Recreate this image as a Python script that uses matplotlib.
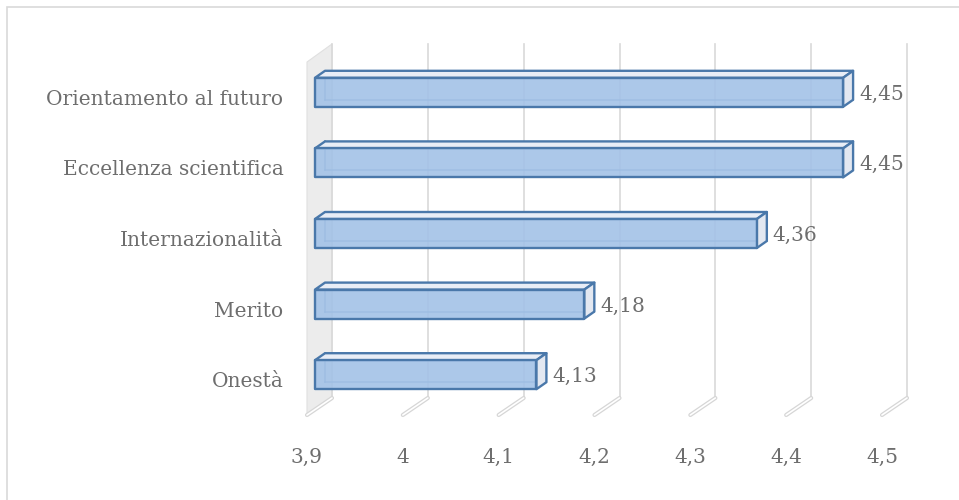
import matplotlib
matplotlib.use('Agg')
import matplotlib.pyplot as plt
from matplotlib.patches import Polygon, Rectangle

plt.rcParams['font.family'] = ['DejaVu Serif']

categorie = ['Onestà', 'Merito', 'Internazionalità', 'Eccellenza scientifica', 'Orientamento al futuro']
valori = [4.13, 4.18, 4.36, 4.45, 4.45]
etichette = ['4,13', '4,18', '4,36', '4,45', '4,45']
tick_x = [3.9, 4.0, 4.1, 4.2, 4.3, 4.4, 4.5]
tick_lab = ['3,9', '4', '4,1', '4,2', '4,3', '4,4', '4,5']

W, H = 959, 500
fig = plt.figure(figsize=(W / 100, H / 100), dpi=100)
# piano frontale: x 307..882 px, y 62..415 px (dall'alto)
ax = fig.add_axes([307 / W, (H - 415) / H, 575 / W, 353 / H])
ax.set_xlim(3.9, 4.5)
ax.set_ylim(-0.5, 4.5)
for s in ax.spines.values():
    s.set_visible(False)
ax.patch.set_alpha(0)

# pixel -> unità dati
ux = 0.6 / 575
uy = 5.0 / 353

testo = '#6e6e6e'

# cornice esterna
fig.patches.append(Rectangle((7 / W, -0.1), 1.2, 1.1 - 7 / H, transform=fig.transFigure,
                             fill=False, edgecolor='#d9d9d9', lw=1.2))

# parete laterale
dwx, dwy = 25 * ux, 18 * uy
ax.add_patch(Polygon([(3.9, -0.5), (3.9, 4.5), (3.9 + dwx, 4.5 + dwy), (3.9 + dwx, -0.5 + dwy)],
                     closed=True, facecolor='#ececec', edgecolor='#e0e0e0', lw=0.8, clip_on=False, zorder=1))

# griglia (parete di fondo + pavimento)
for v in tick_x:
    ax.plot([v + dwx, v + dwx], [-0.5 + 17 * uy, 4.5 + dwy], color='#d9d9d9', lw=1.2, clip_on=False, zorder=1.5)
    ax.plot([v + dwx, v], [-0.5 + 17 * uy, -0.5], color='#d6d6d6', lw=3, clip_on=False,
            zorder=1.5, solid_capstyle='round')
    ax.plot([v + dwx, v], [-0.5 + 17 * uy, -0.5], color='white', lw=1.2, clip_on=False,
            zorder=1.6, solid_capstyle='round')

# barre 3D
edge = '#4a78aa'
fx0, fy0 = 8 * ux, 5 * uy       # spostamento faccia frontale
bdx, bdy = 10 * ux, 7 * uy      # profondità barra
hh = 14.5 * uy
for i, v in enumerate(valori):
    x0 = 3.9 + fx0
    x1 = v + 9 * ux
    yc = i + fy0
    yb, yt = yc - hh, yc + hh
    # spigoli posteriori visibili in trasparenza
    ax.plot([x0 + bdx, x1 + bdx], [yb + bdy, yb + bdy], color=edge, lw=1.3, alpha=0.6, zorder=2, clip_on=False)
    ax.plot([x0 + bdx, x0 + bdx], [yb + bdy, yt + bdy], color=edge, lw=1.3, alpha=0.6, zorder=2, clip_on=False)
    # faccia superiore
    ax.add_patch(Polygon([(x0, yt), (x1, yt), (x1 + bdx, yt + bdy), (x0 + bdx, yt + bdy)], closed=True,
                         facecolor='#e8edf6', edgecolor=edge, lw=1.7, joinstyle='round', zorder=3, clip_on=False))
    # faccia laterale destra
    ax.add_patch(Polygon([(x1, yb), (x1, yt), (x1 + bdx, yt + bdy), (x1 + bdx, yb + bdy)], closed=True,
                         facecolor='#e3e8f1', edgecolor=edge, lw=1.7, joinstyle='round', zorder=3, clip_on=False))
    # faccia frontale
    ax.add_patch(Rectangle((x0, yb), x1 - x0, yt - yb, facecolor='#a3c2e7', alpha=0.9,
                           edgecolor='none', zorder=4, clip_on=False))
    ax.add_patch(Rectangle((x0, yb), x1 - x0, yt - yb, fill=False, edgecolor=edge, lw=1.7,
                           joinstyle='round', zorder=5, clip_on=False))
    ax.text(v + 25 * ux, i + 3 * uy, etichette[i], ha='left', va='center', fontsize=14.5,
            color=testo, zorder=6)

ax.set_xticks(tick_x)
ax.set_xticklabels(tick_lab)
ax.set_yticks(range(len(categorie)))
ax.set_yticklabels(categorie)
ax.tick_params(axis='both', length=0, labelsize=14.5, labelcolor=testo)
ax.tick_params(axis='x', pad=24)
ax.tick_params(axis='y', pad=17)

fig.savefig('out.png', dpi=100, facecolor='white')
